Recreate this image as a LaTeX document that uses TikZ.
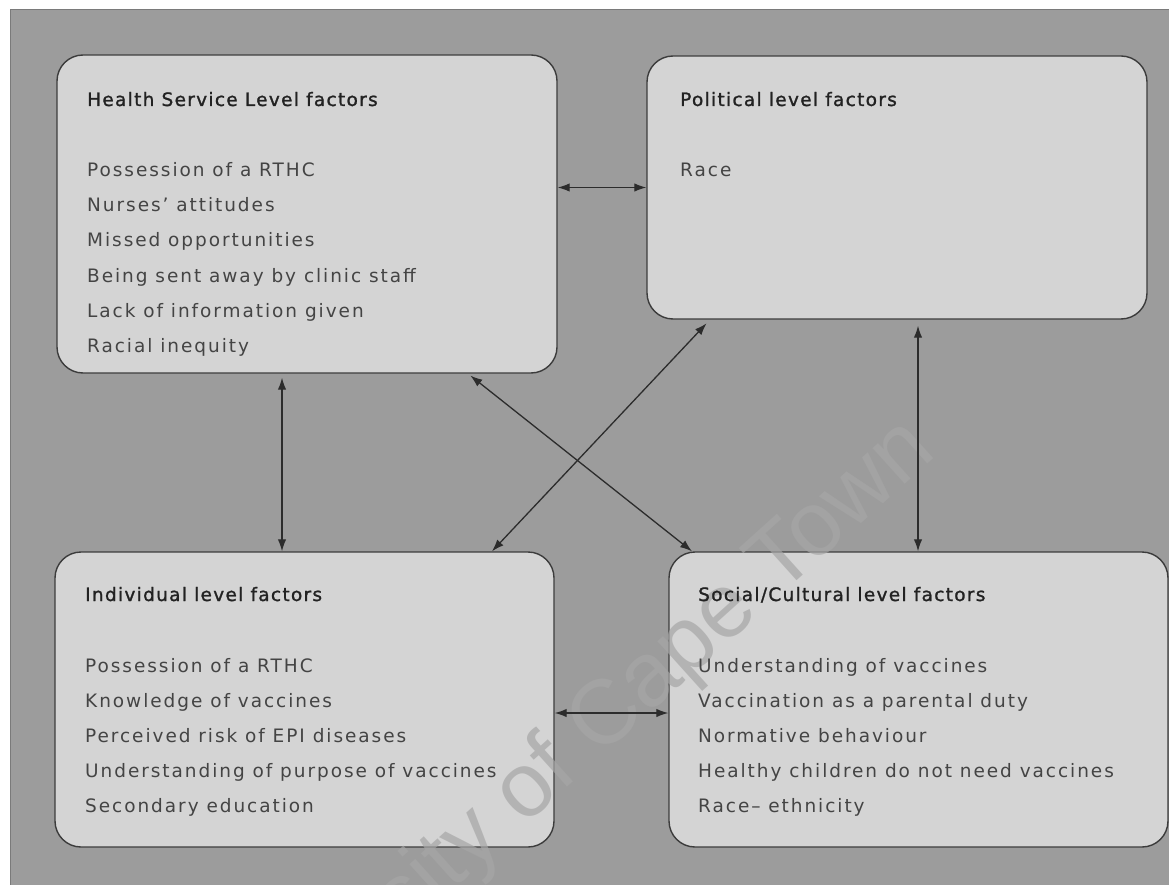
\documentclass[tikz,border=0pt]{standalone}
\usepackage{fontspec}
\setmainfont{DejaVu Sans}
\newfontfamily\itemfont{DejaVu Sans}[LetterSpace=10.5]
\newfontfamily\headfont{DejaVu Sans}[LetterSpace=7,
  BoldFont={DejaVu Sans}, BoldFeatures={FakeBold=1.3}]
\newfontfamily\markfont{Liberation Sans}
\usetikzlibrary{arrows.meta}

\definecolor{pagebg}{HTML}{9C9C9C}
\definecolor{boxfill}{HTML}{D4D4D4}
\definecolor{boxline}{HTML}{3C3C3C}
\definecolor{linecol}{HTML}{2C2C2C}
\definecolor{headcol}{HTML}{222222}
\definecolor{itemcol}{HTML}{444444}
\definecolor{framecol}{HTML}{7A7A7A}
\definecolor{markcol}{HTML}{A6A6A6}

\tikzset{
  factorbox/.style={draw=boxline, fill=boxfill, line width=1.4pt,
    rounded corners=26pt, inner sep=0pt},
  headtext/.style={anchor=base west, inner sep=0pt, text=headcol,
    font=\headfont\bfseries\fontsize{18.5}{22}\selectfont},
  itemtext/.style={anchor=base west, inner sep=0pt, text=itemcol,
    font=\itemfont\fontsize{18.5}{22}\selectfont},
  link/.style={draw=linecol, line width=1.3pt,
    {Latex[length=12pt,width=8.5pt]}-{Latex[length=12pt,width=8.5pt]}},
  watermark/.style={anchor=base east, inner sep=0pt, text=markcol,
    opacity=0.7, rotate=42, font=\markfont\fontsize{91}{100}\selectfont}
}

\begin{document}
\begin{tikzpicture}[x=1pt,y=-1pt]
  \useasboundingbox (0,0) rectangle (1169,885);
  % page and grey panel
  \fill[white] (0,0) rectangle (1169,885);
  \fill[pagebg] (10,10) rectangle (1169,885);
  \draw[framecol, line width=1pt] (10,885) -- (10,10) -- (1169,10);

  % the four factor boxes
  \node[factorbox, minimum width=500pt, minimum height=318pt] (hs)  at (307,214) {};
  \node[factorbox, minimum width=500pt, minimum height=263pt] (pol) at (897,187.5) {};
  \node[factorbox, minimum width=499pt, minimum height=295pt] (ind) at (304.5,699.5) {};
  \node[factorbox, minimum width=499pt, minimum height=295pt] (soc) at (918.5,699.5) {};

  % watermark across the lower half
  \node[watermark] (wm) at (938,454) {University of Cape Town};

  % box texts
  \node[headtext] (hs-h) at (87,106) {Health Service Level factors};
  \foreach \t [count=\i] in {Possession of a RTHC, Nurses’ attitudes,
      Missed opportunities, Being sent away by clinic staff,
      Lack of information given, Racial inequity}
    \node[itemtext] (hs-\i) at (87,{142+35*\i}) {\t};

  \node[headtext] (pol-h) at (680,106) {Political level factors};
  \node[itemtext] (pol-1) at (680,177) {Race};

  \node[headtext] (ind-h) at (85,601) {Individual level factors};
  \foreach \t [count=\i] in {Possession of a RTHC, Knowledge of vaccines,
      Perceived risk of EPI diseases, Understanding of purpose of vaccines,
      Secondary education}
    \node[itemtext] (ind-\i) at (85,{637+35*\i}) {\t};

  \node[headtext] (soc-h) at (698,601) {Social/Cultural level factors};
  \foreach \t [count=\i] in {Understanding of vaccines,
      Vaccination as a parental duty, Normative behaviour,
      Healthy children do not need vaccines, Race– ethnicity}
    \node[itemtext] (soc-\i) at (698,{637+35*\i}) {\t};

  % connections between the levels
  \draw[link] (hs.east |- pol.west) -- (pol.west);
  \draw[link, shorten <=4pt] ([xshift=-25pt]hs.south) -- ([xshift=-25pt]hs.south |- ind.north);
  \draw[link, shorten <=6pt] ([xshift=21pt]pol.south) -- ([xshift=21pt]pol.south |- soc.north);
  \draw[link, shorten <=3pt] ([xshift=161pt]hs.south) -- ([xshift=-226.5pt]soc.north);
  \draw[link, shorten <=5pt] ([xshift=-187pt]pol.south) -- ([xshift=187.5pt]ind.north);
  \draw[link] ([yshift=-13.5pt]ind.east) -- ([yshift=-13.5pt]soc.west);
\end{tikzpicture}
\end{document}
